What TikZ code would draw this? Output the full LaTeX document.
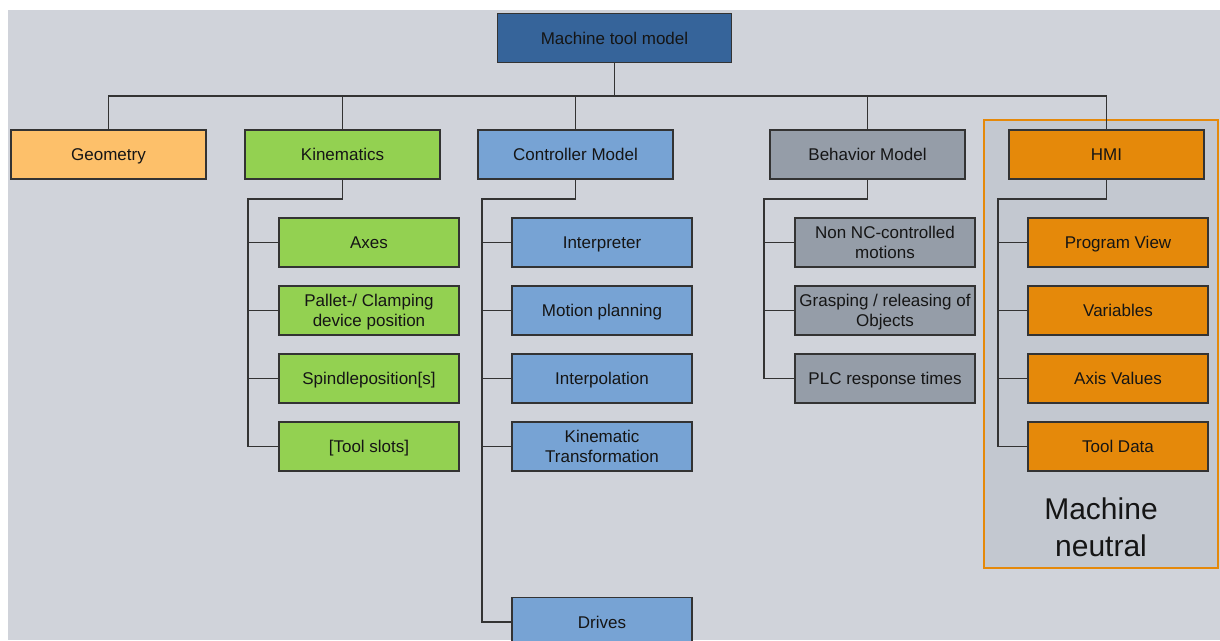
\documentclass[tikz,border=0pt]{standalone}
\usepackage{fontspec}
\setmainfont{Liberation Sans}
\begin{document}
\definecolor{canvas}{HTML}{D0D3DA}
\definecolor{groupfill}{HTML}{C3C8D0}
\definecolor{rootblue}{HTML}{36649A}
\definecolor{geomorange}{HTML}{FDC06A}
\definecolor{kingreen}{HTML}{93D151}
\definecolor{ctrlblue}{HTML}{77A3D4}
\definecolor{behavgray}{HTML}{959DA8}
\definecolor{hmiorange}{HTML}{E5890A}
\definecolor{edge}{HTML}{333333}
\definecolor{ink}{HTML}{151515}
\begin{tikzpicture}[x=1pt,y=-1pt,
  box/.style={draw=edge,line width=1.1pt,rectangle,inner sep=2pt,
    text=ink,align=center,text depth=0pt,
    font=\fontsize{17}{20}\selectfont},
  topbox/.style={box,minimum width=195pt,minimum height=49pt},
  subbox/.style={box,minimum width=180pt,minimum height=49pt},
  link/.style={draw=edge,line width=1.2pt}]
\useasboundingbox (0,0) rectangle (1220,640);
\fill[white] (0,0) rectangle (1220,640);
\fill[canvas] (8,10) rectangle (1220,640);

% machine-neutral group frame
\node[draw=hmiorange,fill=groupfill,line width=1.6pt,rectangle,
  minimum width=234pt,minimum height=448pt,inner sep=0pt] (grp) at (1101,344) {};
\node[text=ink,align=center,font=\fontsize{30}{37}\selectfont] (neutral) at (1101,527) {Machine\\neutral};

% root
\node[box,fill=rootblue,minimum width=234pt,minimum height=49pt] (root) at (614.5,38) {Machine tool model};

% first level
\node[topbox,fill=geomorange] (geo) at (108.5,154.5) {Geometry};
\node[topbox,fill=kingreen] (kin) at (342.5,154.5) {Kinematics};
\node[topbox,fill=ctrlblue] (ctrl) at (575.5,154.5) {Controller Model};
\node[topbox,fill=behavgray] (beh) at (867.5,154.5) {Behavior Model};
\node[topbox,fill=hmiorange] (hmi) at (1106.5,154.5) {HMI};

% kinematics children
\node[subbox,fill=kingreen] (k1) at (369,242.5) {Axes};
\node[subbox,fill=kingreen] (k2) at (369,310.5) {Pallet-/ Clamping\\device position};
\node[subbox,fill=kingreen] (k3) at (369,378.5) {Spindleposition[s]};
\node[subbox,fill=kingreen] (k4) at (369,446.5) {[Tool slots]};

% controller children
\node[subbox,fill=ctrlblue] (c1) at (602,242.5) {Interpreter};
\node[subbox,fill=ctrlblue] (c2) at (602,310.5) {Motion planning};
\node[subbox,fill=ctrlblue] (c3) at (602,378.5) {Interpolation};
\node[subbox,fill=ctrlblue] (c4) at (602,446.5) {Kinematic\\Transformation};
\node[subbox,fill=ctrlblue] (c5) at (602,622) {Drives};

% behavior children
\node[subbox,fill=behavgray] (b1) at (885,242.5) {Non NC-controlled\\motions};
\node[subbox,fill=behavgray] (b2) at (885,310.5) {Grasping / releasing of\\Objects};
\node[subbox,fill=behavgray] (b3) at (885,378.5) {PLC response times};

% HMI children
\node[subbox,fill=hmiorange] (h1) at (1118,242.5) {Program View};
\node[subbox,fill=hmiorange] (h2) at (1118,310.5) {Variables};
\node[subbox,fill=hmiorange] (h3) at (1118,378.5) {Axis Values};
\node[subbox,fill=hmiorange] (h4) at (1118,446.5) {Tool Data};

% root bus
\coordinate (bus) at (614.5,96);
\draw[link] (root.south) -- (bus);
\foreach \n in {geo,kin,ctrl,beh,hmi}
  \draw[link] (\n.north) |- (bus);

% child trunks
\foreach \p/\tx/\last/\kids in {kin/248/k4/{k1,k2,k3,k4},
    ctrl/482/c5/{c1,c2,c3,c4,c5},
    beh/764/b3/{b1,b2,b3},
    hmi/998/h4/{h1,h2,h3,h4}}{
  \coordinate (\p-knee) at (\tx,199);
  \draw[link] (\p.south) |- (\p-knee) |- (\last.west);
  \foreach \c in \kids
    \draw[link] (\c.west) -- (\c.west -| \p-knee);
}
\end{tikzpicture}
\end{document}
